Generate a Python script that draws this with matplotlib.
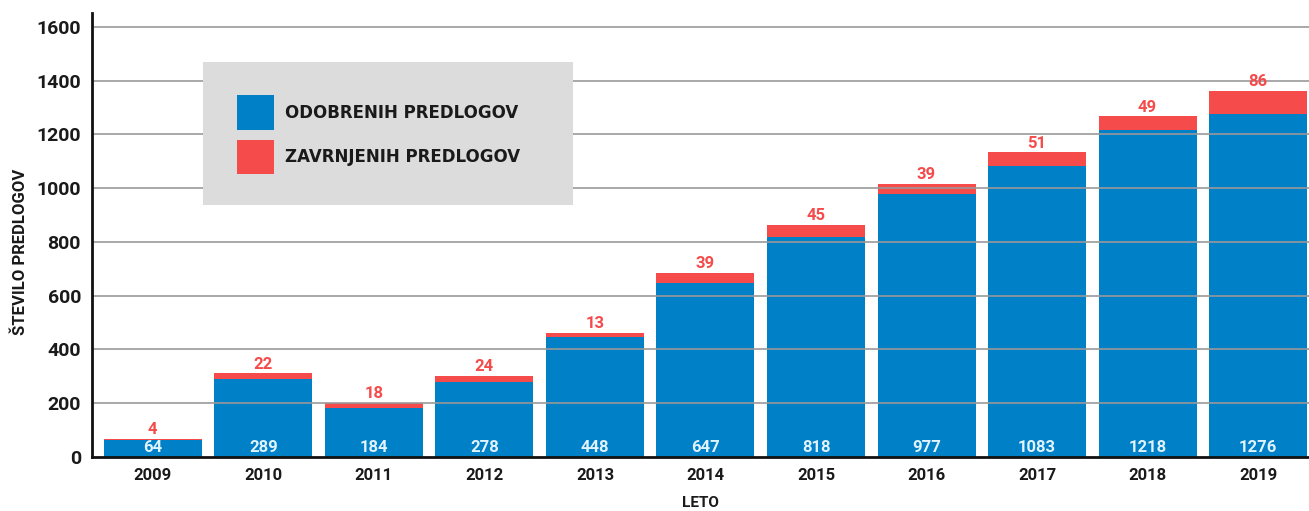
import matplotlib
matplotlib.use("Agg")
import matplotlib.pyplot as plt
from matplotlib.patches import Rectangle

years = ["2009", "2010", "2011", "2012", "2013", "2014", "2015", "2016", "2017", "2018", "2019"]
approved = [64, 289, 184, 278, 448, 647, 818, 977, 1083, 1218, 1276]
rejected = [4, 22, 18, 24, 13, 39, 45, 39, 51, 49, 86]
yticks = [0, 200, 400, 600, 800, 1000, 1200, 1400, 1600]

BLUE = "#0080C6"
RED = "#F54B4B"
FONT = "Roboto"

plt.rcParams['font.family'] = [FONT, 'DejaVu Sans']

W, H = 1309, 511
fig = plt.figure(figsize=(13.09, 5.11), dpi=100)
ax = fig.add_axes([92 / W, 1 - 457 / H, 1217 / W, 444 / H])

x = list(range(len(years)))
ax.bar(x, approved, width=0.887, color=BLUE, zorder=2)
ax.bar(x, rejected, width=0.887, bottom=approved, color=RED, zorder=2)

for xi, a, r in zip(x, approved, rejected):
    ax.text(xi, 6, str(a), ha="center", va="bottom", color="#E0F3FF",
            fontsize=12, fontweight="bold", zorder=4)
    ax.text(xi, a + r + 6, str(r), ha="center", va="bottom", color=RED,
            fontsize=12, fontweight="bold", zorder=4)

ax.set_xlim(-0.55, 10.46)
ax.set_ylim(0, 1652)
ax.set_yticks(yticks)
ax.set_yticklabels([str(t) for t in yticks], fontsize=14, fontweight="bold")
ax.set_xticks(x)
ax.set_xticklabels(years, fontsize=12, fontweight="bold")
ax.tick_params(axis="both", length=0, pad=8, colors="#1a1a1a")
ax.tick_params(axis="y", pad=8)

for t in yticks[1:]:
    ax.axhline(t, color="#999999", lw=1.2, zorder=3)

for s in ["top", "right"]:
    ax.spines[s].set_visible(False)
for s in ["left", "bottom"]:
    ax.spines[s].set_linewidth(2)
    ax.spines[s].set_color("#111111")
    ax.spines[s].set_zorder(5)

def fx(px):
    return px / W
def fy(py):
    return 1 - py / H

fig.text(fx(20), fy(252), "ŠTEVILO PREDLOGOV", rotation=90, fontsize=12,
         fontweight="bold", ha="center", va="center", color="#1a1a1a")
fig.text(fx(700), fy(503), "LETO", fontsize=11, fontweight="bold",
         ha="center", va="center", color="#1a1a1a")

# legend box (figure pixel coords)
fig.patches.append(Rectangle((fx(203), fy(205)), fx(573) - fx(203), fy(62) - fy(205),
                             transform=fig.transFigure, facecolor="#DCDCDC",
                             edgecolor="none", zorder=10))
fig.patches.append(Rectangle((fx(237), fy(130)), fx(274) - fx(237), fy(95) - fy(130),
                             transform=fig.transFigure, facecolor=BLUE,
                             edgecolor="none", zorder=11))
fig.patches.append(Rectangle((fx(237), fy(174)), fx(274) - fx(237), fy(140) - fy(174),
                             transform=fig.transFigure, facecolor=RED,
                             edgecolor="none", zorder=11))
fig.text(fx(285), fy(113), "ODOBRENIH PREDLOGOV", fontsize=12, fontweight="bold",
         family=["DejaVu Sans"], va="center", ha="left", color="#1a1a1a", zorder=12)
fig.text(fx(285), fy(157), "ZAVRNJENIH PREDLOGOV", fontsize=12, fontweight="bold",
         family=["DejaVu Sans"], va="center", ha="left", color="#1a1a1a", zorder=12)

fig.savefig("out.png", dpi=100)
